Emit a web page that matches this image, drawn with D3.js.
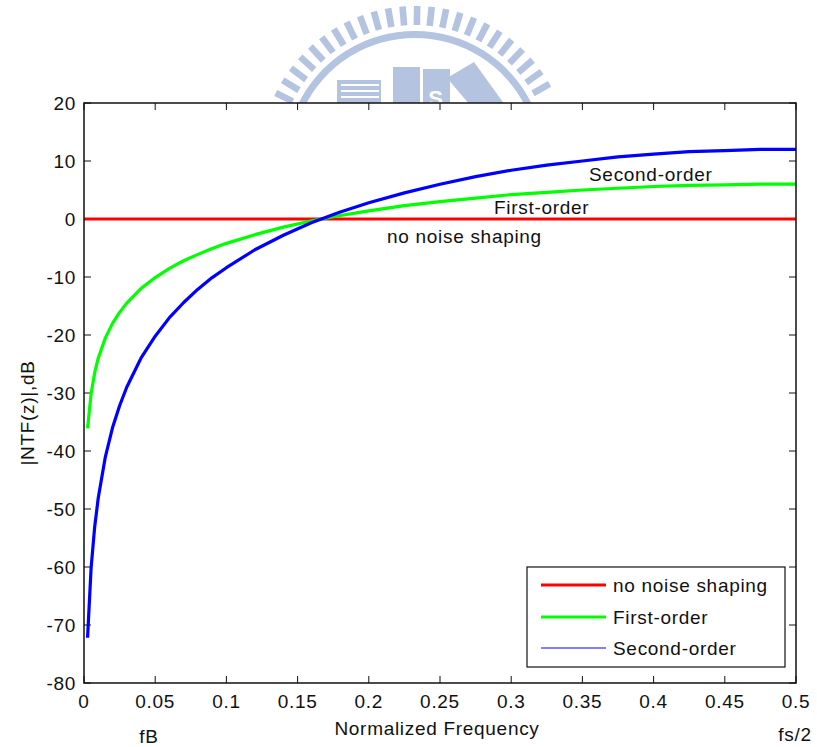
<!DOCTYPE html>
<html><head><meta charset="utf-8">
<script src="https://cdn.jsdelivr.net/npm/d3@7"></script>
<style>
html,body{margin:0;padding:0;background:#fff;}
svg text{font-family:"Liberation Sans",Arial,sans-serif;fill:#111;letter-spacing:0.7px;}
</style></head>
<body>
<svg id="chart" width="817" height="747"></svg>
<script>
// ---- data ----
const freq = [0.0025,0.005,0.0075,0.01,0.015,0.02,0.025,0.03,0.04,0.05,0.06,0.07,0.08,0.09,0.10,0.12,0.14,0.16,0.18,0.20,0.225,0.25,0.275,0.30,0.325,0.35,0.375,0.40,0.425,0.45,0.475,0.50];
const noShaping = [0,0,0,0,0,0,0,0,0,0,0,0,0,0,0,0,0,0,0,0,0,0,0,0,0,0,0,0,0,0,0,0];
const firstOrder = [-36.1,-30.1,-26.5,-24.0,-20.5,-18.0,-16.1,-14.5,-12.0,-10.1,-8.5,-7.2,-6.1,-5.1,-4.2,-2.7,-1.4,-0.3,0.6,1.4,2.3,3.0,3.6,4.2,4.6,5.0,5.3,5.6,5.8,5.9,6.0,6.0];
const secondOrder = [-72.2,-60.1,-53.1,-48.1,-41.0,-36.0,-32.2,-29.0,-24.0,-20.2,-17.0,-14.4,-12.1,-10.1,-8.4,-5.3,-2.8,-0.6,1.2,2.8,4.5,6.0,7.3,8.4,9.3,10.0,10.7,11.2,11.6,11.8,12.0,12.0];
const xTicks = [0,0.05,0.1,0.15,0.2,0.25,0.3,0.35,0.4,0.45,0.5];
const yTicks = [-80,-70,-60,-50,-40,-30,-20,-10,0,10,20];
const seriesNames = ["no noise shaping","First-order","Second-order"];
const seriesColors = ["#ff0000","#00ff00","#0000ff"];

const svg = d3.select("#chart");
const L=84,R=796,T=103,B=683;
const x = d3.scaleLinear().domain([0,0.5]).range([L,R]);
const y = d3.scaleLinear().domain([-80,20]).range([B,T]);

// ---- watermark logo (decorative) ----
const wm = svg.append("g").attr("fill","#b3c3e0");
const cx=415, cy=161;
for(let a=-64;a<=64;a+=5.4){
  const r=a*Math.PI/180;
  wm.append("rect").attr("x",-3.3).attr("y",-155).attr("width",6.6).attr("height",19)
    .attr("transform",`translate(${cx},${cy}) rotate(${a})`);
}
wm.append("path").attr("d",d3.arc()({innerRadius:123,outerRadius:130,startAngle:-1.12,endAngle:1.12}))
  .attr("transform",`translate(${cx},${cy})`);
wm.append("rect").attr("x",337).attr("y",80).attr("width",44).attr("height",25);
[84,90,96].forEach(v=>svg.append("rect").attr("x",341).attr("y",v).attr("width",38).attr("height",2).attr("fill","#fff"));
wm.append("rect").attr("x",393).attr("y",67).attr("width",27).attr("height",40);
wm.append("rect").attr("x",423).attr("y",69).attr("width",27).attr("height",40);
svg.append("text").attr("x",436).attr("y",106).attr("text-anchor","middle").style("font-size","22px").style("font-weight","bold").style("fill","#fff").text("S");
wm.append("path").attr("d","M447,78 L474,62 L505,105 L470,105 Z");

// ---- plot area ----
svg.append("rect").attr("x",L).attr("y",T).attr("width",R-L).attr("height",B-T).attr("fill","#fff");

// ticks on all four sides, inward
const tk=7;
const tg = svg.append("g").attr("stroke","#111").attr("stroke-width",1);
xTicks.forEach(v=>{
  tg.append("line").attr("x1",x(v)).attr("x2",x(v)).attr("y1",B).attr("y2",B-tk);
  tg.append("line").attr("x1",x(v)).attr("x2",x(v)).attr("y1",T).attr("y2",T+tk);
});
yTicks.forEach(v=>{
  tg.append("line").attr("x1",L).attr("x2",L+tk).attr("y1",y(v)).attr("y2",y(v));
  tg.append("line").attr("x1",R).attr("x2",R-tk).attr("y1",y(v)).attr("y2",y(v));
});

// tick labels
svg.append("g").selectAll("text").data(xTicks).join("text")
  .attr("x",d=>x(d)).attr("y",708).attr("text-anchor","middle").style("font-size","19px")
  .text(d=>d3.format("~g")(d));
svg.append("g").selectAll("text").data(yTicks).join("text")
  .attr("x",76).attr("y",d=>y(d)).attr("dy","0.36em").attr("text-anchor","end").style("font-size","19px")
  .text(d=>d);

// lines
const line = d3.line().x((d,i)=>x(freq[i])).y(d=>y(d));
const allSeries=[noShaping,firstOrder,secondOrder];
// red across full range from 0
svg.append("line").attr("x1",x(0)).attr("x2",x(0.5)).attr("y1",y(noShaping[0])).attr("y2",y(noShaping[0]))
  .attr("stroke",seriesColors[0]).attr("stroke-width",3);
svg.append("path").datum(firstOrder).attr("d",line).attr("fill","none").attr("stroke",seriesColors[1]).attr("stroke-width",3.2).attr("stroke-linejoin","round");
svg.append("path").datum(secondOrder).attr("d",line).attr("fill","none").attr("stroke",seriesColors[2]).attr("stroke-width",3.2).attr("stroke-linejoin","round");

// axis box
svg.append("rect").attr("x",L).attr("y",T).attr("width",R-L).attr("height",B-T).attr("fill","none").attr("stroke","#111").attr("stroke-width",1.5);

// annotations
svg.append("text").attr("x",589).attr("y",181).style("font-size","19px").text("Second-order");
svg.append("text").attr("x",494).attr("y",214).style("font-size","19px").text("First-order");
svg.append("text").attr("x",387).attr("y",243).style("font-size","19px").text("no noise shaping");

// axis labels
svg.append("text").attr("x",437).attr("y",735).attr("text-anchor","middle").style("font-size","19px").text("Normalized Frequency");
svg.append("text").attr("x",149).attr("y",743).attr("text-anchor","middle").style("font-size","19px").text("fB");
svg.append("text").attr("x",795).attr("y",741).attr("text-anchor","middle").style("font-size","19px").text("fs/2");
svg.append("text").attr("transform","translate(34,413) rotate(-90)").attr("text-anchor","middle").style("font-size","19px").text("|NTF(z)|,dB");

// legend
const lg = svg.append("g");
lg.append("rect").attr("x",527).attr("y",567).attr("width",258).attr("height",100).attr("fill","#fff").attr("stroke","#111").attr("stroke-width",1.2);
const rows=[585,617,648], widths=[3,3,1];
seriesNames.forEach((n,i)=>{
  lg.append("line").attr("x1",541).attr("x2",606).attr("y1",rows[i]).attr("y2",rows[i]).attr("stroke",seriesColors[i]).attr("stroke-width",widths[i]);
  lg.append("text").attr("x",613).attr("y",rows[i]).attr("dy","0.36em").style("font-size","19px").text(n);
});
</script>
</body></html>
